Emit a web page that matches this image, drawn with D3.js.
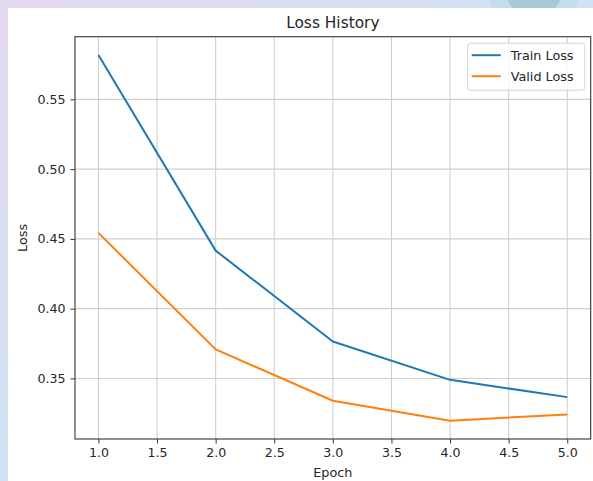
<!DOCTYPE html>
<html>
<head>
<meta charset="utf-8">
<script src="https://cdn.jsdelivr.net/npm/d3@7"></script>
<style>
  body { margin: 0; background: #fff; }
  text { font-family: "DejaVu Sans", sans-serif; fill: #262626; }
</style>
</head>
<body>
<div id="chart"></div>
<script>
const epochs = [1, 2, 3, 4, 5];
const trainLoss = [0.5818, 0.4416, 0.3765, 0.3490, 0.3366];
const validLoss = [0.4543, 0.3708, 0.3340, 0.3197, 0.3242];
const xTicks = [1.0, 1.5, 2.0, 2.5, 3.0, 3.5, 4.0, 4.5, 5.0];
const yTicks = [0.35, 0.40, 0.45, 0.50, 0.55];
const seriesNames = ["Train Loss", "Valid Loss"];
const seriesColors = ["#1f77b4", "#ff7f0e"];

const W = 593, H = 481;
const margin = { top: 36.7, right: 2.3, bottom: 42, left: 75 },
    width = W - margin.left - margin.right,
    height = H - margin.top - margin.bottom;

const svg = d3.select("#chart")
    .append("svg")
    .attr("width", W)
    .attr("height", H);

// backdrop: gradient frame + white card
const defs = svg.append("defs");
const grad = defs.append("linearGradient")
    .attr("id", "bg").attr("x1", "0").attr("y1", "0").attr("x2", "1").attr("y2", "1");
grad.append("stop").attr("offset", "0").attr("stop-color", "#e4d8f1");
grad.append("stop").attr("offset", "0.5").attr("stop-color", "#cfe2f3");
grad.append("stop").attr("offset", "1").attr("stop-color", "#c6e6f4");
svg.append("rect").attr("width", W).attr("height", H).attr("fill", "url(#bg)");
svg.append("circle").attr("cx", 534).attr("cy", -12).attr("r", 46).attr("fill", "#c3dcee");
svg.append("circle").attr("cx", 534).attr("cy", -12).attr("r", 29).attr("fill", "#a9c9d6");
svg.append("rect").attr("x", 8).attr("y", 8).attr("width", W - 8).attr("height", H - 8).attr("fill", "#fff");

const g = svg.append("g")
    .attr("transform", `translate(${margin.left}, ${margin.top})`);

// matplotlib-style 5% margins
const xPad = (d3.max(epochs) - d3.min(epochs)) * 0.05;
const x = d3.scaleLinear()
    .domain([d3.min(epochs) - xPad, d3.max(epochs) + xPad])
    .range([0, width]);
const allY = trainLoss.concat(validLoss);
const yPad = (d3.max(allY) - d3.min(allY)) * 0.05;
const y = d3.scaleLinear()
    .domain([d3.min(allY) - yPad, d3.max(allY) + yPad])
    .range([height, 0]);

// grid
g.append("g")
    .selectAll("line")
    .data(xTicks)
    .join("line")
    .attr("x1", d => x(d)).attr("x2", d => x(d))
    .attr("y1", 0).attr("y2", height)
    .attr("stroke", "#d0d0d0").attr("stroke-width", 1.1);
g.append("g")
    .selectAll("line")
    .data(yTicks)
    .join("line")
    .attr("y1", d => y(d)).attr("y2", d => y(d))
    .attr("x1", 0).attr("x2", width)
    .attr("stroke", "#d0d0d0").attr("stroke-width", 1.1);

// axes
const xAxis = g.append("g")
    .attr("transform", `translate(0, ${height})`)
    .call(d3.axisBottom(x).tickValues(xTicks).tickFormat(d3.format(".1f")).tickSize(4.5).tickPadding(5));
const yAxis = g.append("g")
    .call(d3.axisLeft(y).tickValues(yTicks).tickFormat(d3.format(".2f")).tickSize(4.5).tickPadding(5));
[xAxis, yAxis].forEach(a => {
    a.select(".domain").remove();
    a.selectAll("line").attr("stroke", "#333").attr("stroke-width", 1);
    a.selectAll("text").attr("font-size", 12.6).attr("fill", "#262626")
        .attr("font-family", "DejaVu Sans, sans-serif");
});

// frame
g.append("rect")
    .attr("width", width).attr("height", height)
    .attr("fill", "none").attr("stroke", "#333").attr("stroke-width", 1.1);

// lines
const line = d3.line().x((d, i) => x(epochs[i])).y(d => y(d));
[trainLoss, validLoss].forEach((s, i) => {
    g.append("path")
        .datum(s)
        .attr("fill", "none")
        .attr("stroke", seriesColors[i])
        .attr("stroke-width", 2)
        .attr("stroke-linejoin", "round")
        .attr("d", line);
});

// title + labels
svg.append("text")
    .attr("x", margin.left + width / 2).attr("y", 28)
    .attr("text-anchor", "middle").attr("font-size", 15.4)
    .text("Loss History");
svg.append("text")
    .attr("x", margin.left + width / 2).attr("y", 477)
    .attr("text-anchor", "middle").attr("font-size", 12.8)
    .text("Epoch");
svg.append("text")
    .attr("transform", `translate(27, ${margin.top + height / 2}) rotate(-90)`)
    .attr("text-anchor", "middle").attr("font-size", 12.8)
    .text("Loss");

// legend
const legend = g.append("g")
    .attr("transform", `translate(${width - 123}, 6.5)`);
legend.append("rect")
    .attr("width", 117).attr("height", 47).attr("rx", 3)
    .attr("fill", "#fff").attr("fill-opacity", 0.8)
    .attr("stroke", "#d5d5d5");
seriesNames.forEach((name, i) => {
    const row = legend.append("g").attr("transform", `translate(0, ${12 + i * 21})`);
    row.append("line")
        .attr("x1", 4).attr("x2", 33)
        .attr("stroke", seriesColors[i]).attr("stroke-width", 2);
    row.append("text")
        .attr("x", 43).attr("dy", "0.35em")
        .attr("font-size", 12.8)
        .text(name);
});
</script>
</body>
</html>
